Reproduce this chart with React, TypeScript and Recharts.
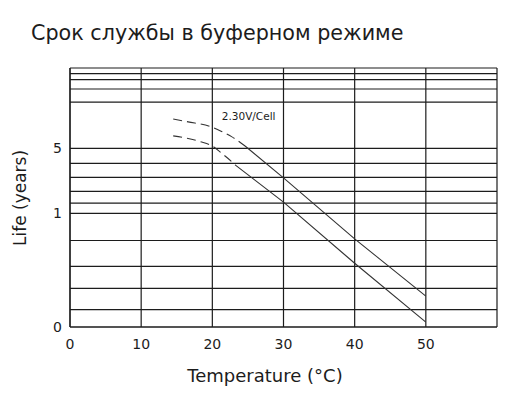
import React from 'react';
import { LineChart, Line, XAxis, YAxis, CartesianGrid, ReferenceDot } from 'recharts';

const FONT = '"DejaVu Sans", sans-serif';
const INK = '#1c1c1c';

// x axis: temperature (°C)
const xTicks = [0, 10, 20, 30, 40, 50, 60];
const xTickLabels = ['0', '10', '20', '30', '40', '50', ''];

// y axis: chart grid positions (non-uniform grid of the original drawing)
const yTicks = [0, 6.7, 14.9, 23.4, 33.4, 43.9, 47.8, 52.4, 57.8, 63.2, 69.0, 86.8, 91.9, 95.5, 97.8, 100];
const yTickLabels: Record<string, string> = { '0': '0', '43.9': '1', '69': '5' };

// upper curve
const upperDashed = [
  { t: 14.5, v: 80.3 },
  { t: 16.6, v: 79.2 },
  { t: 19.7, v: 77.4 },
  { t: 21.3, v: 75.5 },
  { t: 22.7, v: 73.5 },
  { t: 24.6, v: 69.9 },
];
const upperSolid = [
  { t: 24.6, v: 69.9 },
  { t: 30, v: 57.6 },
  { t: 40, v: 34.0 },
  { t: 50, v: 11.9 },
];

// lower curve
const lowerDashed = [
  { t: 14.5, v: 73.8 },
  { t: 18.3, v: 71.6 },
  { t: 20.1, v: 69.7 },
  { t: 21.3, v: 67.1 },
  { t: 22.7, v: 63.9 },
  { t: 23.2, v: 62.6 },
];
const lowerSolid = [
  { t: 23.2, v: 62.6 },
  { t: 30, v: 48.2 },
  { t: 40, v: 24.6 },
  { t: 50, v: 1.9 },
];

const annotation = { t: 25.1, v: 81.3, text: '2.30V/Cell' };

export default function App() {
  return (
    <div style={{ position: 'absolute', left: 0, top: 0, width: 509, height: 400, background: '#fff', fontFamily: FONT }}>
      <div style={{ position: 'absolute', left: 31, top: 21, fontSize: 20.7, color: INK, whiteSpace: 'nowrap' }}>
        Срок службы в буферном режиме
      </div>
      <div
        style={{
          position: 'absolute',
          left: 20,
          top: 198,
          fontSize: 17,
          color: INK,
          whiteSpace: 'nowrap',
          transform: 'translate(-50%, -50%) rotate(-90deg)',
        }}
      >
        Life (years)
      </div>
      <div
        style={{
          position: 'absolute',
          left: 265,
          top: 375,
          fontSize: 18,
          color: INK,
          whiteSpace: 'nowrap',
          transform: 'translate(-50%, -50%)',
        }}
      >
        Temperature (°C)
      </div>
      <LineChart width={509} height={400} margin={{ top: 68, right: 12, left: 0, bottom: 0 }} style={{ position: 'absolute', left: 0, top: 0 }}>
        <CartesianGrid stroke={INK} strokeWidth={1.2} horizontal vertical />
        <XAxis
          type="number"
          dataKey="t"
          domain={[0, 60]}
          ticks={xTicks}
          interval={0}
          tickFormatter={(v: number) => xTickLabels[xTicks.indexOf(v)] ?? ''}
          height={73}
          axisLine={{ stroke: INK, strokeWidth: 1.2 }}
          tickLine={false}
          tickMargin={6}
          tick={{ fill: INK, fontSize: 14, fontFamily: FONT }}
          allowDataOverflow
        />
        <YAxis
          type="number"
          dataKey="v"
          domain={[0, 100]}
          ticks={yTicks}
          interval={0}
          tickFormatter={(v: number) => yTickLabels[String(v)] ?? ''}
          width={70}
          axisLine={{ stroke: INK, strokeWidth: 1.2 }}
          tickLine={false}
          tick={{ fill: INK, fontSize: 14, fontFamily: FONT }}
          allowDataOverflow
        />
        <Line data={upperDashed} dataKey="v" type="monotone" stroke="#333" strokeWidth={1.1} strokeDasharray="9 5" dot={false} isAnimationActive={false} />
        <Line data={upperSolid} dataKey="v" type="linear" stroke="#333" strokeWidth={1.1} dot={false} isAnimationActive={false} />
        <Line data={lowerDashed} dataKey="v" type="monotone" stroke="#333" strokeWidth={1.1} strokeDasharray="9 5" dot={false} isAnimationActive={false} />
        <Line data={lowerSolid} dataKey="v" type="linear" stroke="#333" strokeWidth={1.1} dot={false} isAnimationActive={false} />
        <ReferenceDot
          x={annotation.t}
          y={annotation.v}
          r={0}
          fill="none"
          stroke="none"
          label={{ value: annotation.text, position: 'center', fill: INK, fontSize: 10.5, fontFamily: FONT }}
        />
      </LineChart>
    </div>
  );
}
